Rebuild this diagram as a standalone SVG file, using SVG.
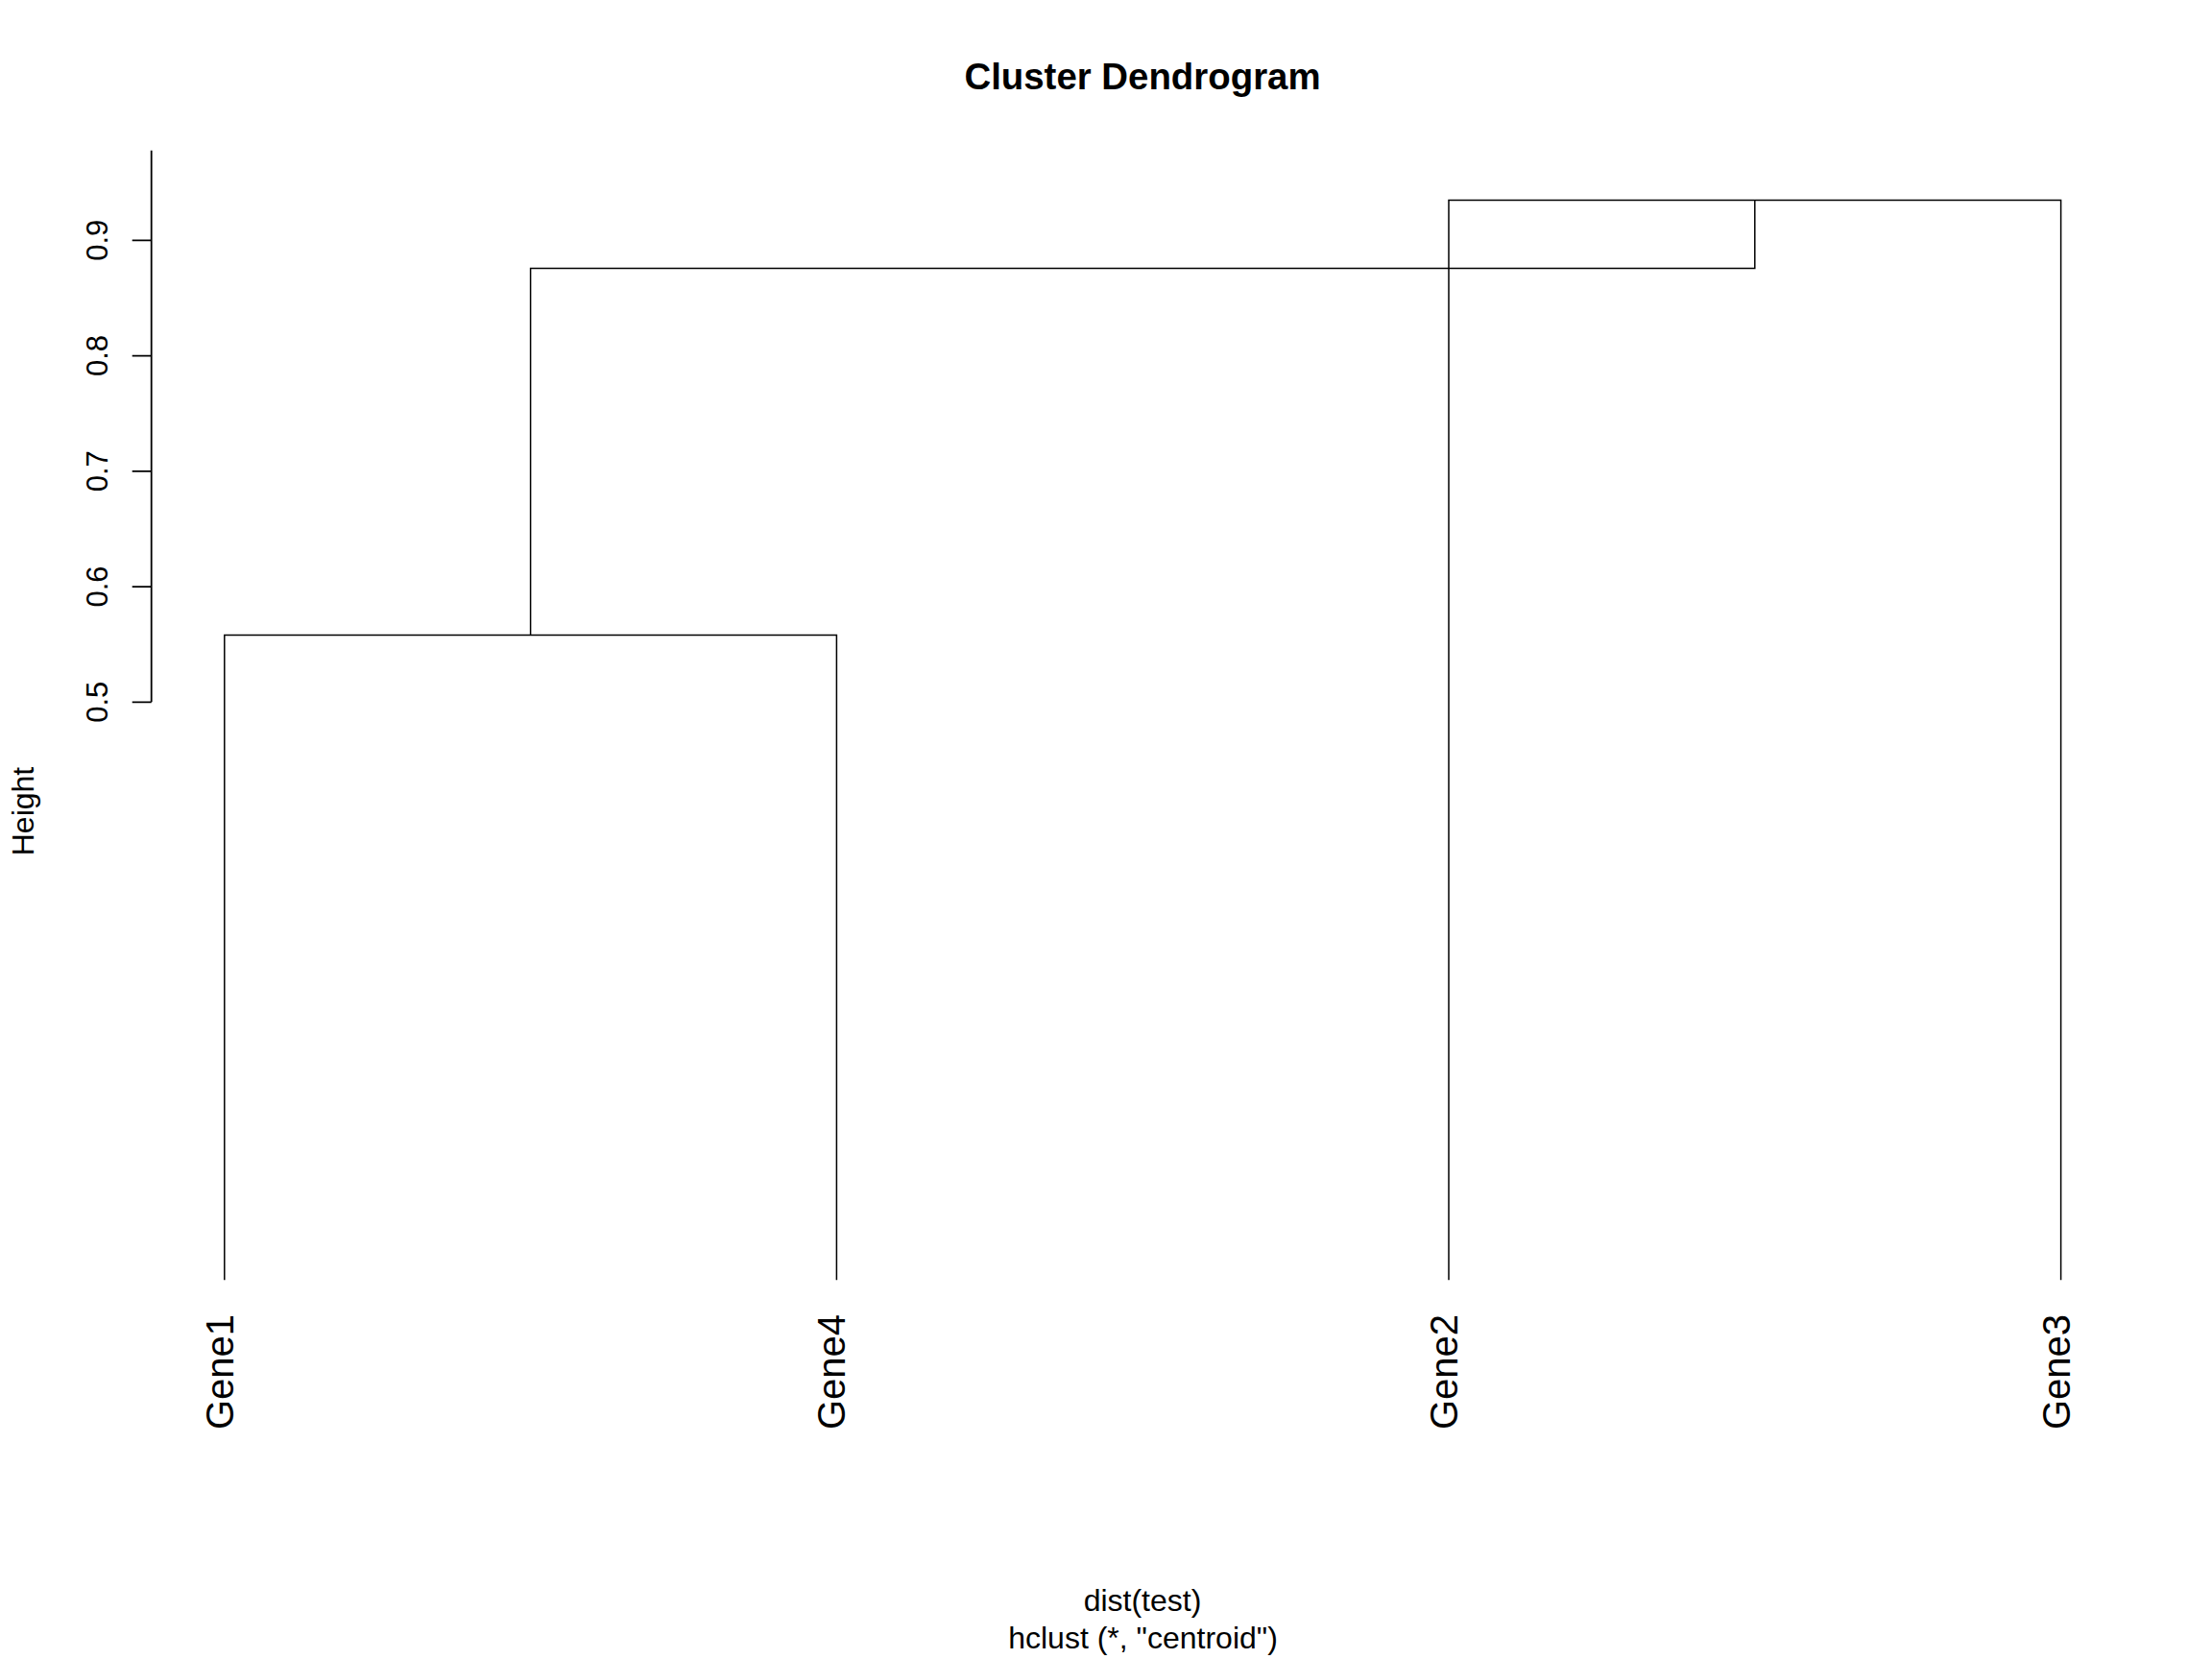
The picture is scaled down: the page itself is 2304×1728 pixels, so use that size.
<svg xmlns="http://www.w3.org/2000/svg" width="2304" height="1728" viewBox="0 0 2304 1728">
  <style>
    .txt { font-family: "Liberation Sans", Arial, Helvetica, sans-serif; fill: #000; }
    .title { font-size: 38.4px; font-weight: bold; text-anchor: middle; }
    .sub { font-size: 32px; text-anchor: middle; }
    .tick { font-size: 31px; text-anchor: middle; }
    .leaf { font-size: 40px; text-anchor: end; }
    .axis { stroke: #000; stroke-width: 1.8; fill: none; stroke-linecap: butt; }
    .edge { stroke: #000; stroke-width: 1.5; fill: none; stroke-linecap: butt; stroke-linejoin: miter; }
  </style>
  <rect x="0" y="0" width="2304" height="1728" fill="#fff"/>

  <g id="title">
    <text class="txt title" x="1190" y="93">Cluster Dendrogram</text>
  </g>

  <g id="y-axis">
    <path class="axis" d="M157.7,156.8 V731.3 M137.7,250.3 H157.7 M137.7,370.55 H157.7 M137.7,490.8 H157.7 M137.7,611.05 H157.7 M137.7,731.3 H157.7"/>
    <text class="txt tick" transform="translate(112,250.3) rotate(-90)">0.9</text>
    <text class="txt tick" transform="translate(112,370.55) rotate(-90)">0.8</text>
    <text class="txt tick" transform="translate(112,490.8) rotate(-90)">0.7</text>
    <text class="txt tick" transform="translate(112,611.05) rotate(-90)">0.6</text>
    <text class="txt tick" transform="translate(112,731.3) rotate(-90)">0.5</text>
    <text class="txt sub" transform="translate(34.5,845) rotate(-90)">Height</text>
  </g>

  <g id="leaf-Gene1">
    <text class="txt leaf" transform="translate(242.5,1369) rotate(-90)">Gene1</text>
  </g>
  <g id="leaf-Gene4">
    <text class="txt leaf" transform="translate(880.2,1369) rotate(-90)">Gene4</text>
  </g>
  <g id="leaf-Gene2">
    <text class="txt leaf" transform="translate(1518,1369) rotate(-90)">Gene2</text>
  </g>
  <g id="leaf-Gene3">
    <text class="txt leaf" transform="translate(2155.5,1369) rotate(-90)">Gene3</text>
  </g>

  <g id="connectors">
    <path class="edge" d="M233.8,1333.3 V661.6 H871.4 V1333.3"/>
    <path class="edge" d="M1509,1333.3 V208.4 H2146.6 V1333.3"/>
    <path class="edge" d="M552.6,661.6 V279.4 H1827.8 V208.4"/>
  </g>

  <g id="x-caption">
    <text class="txt sub" x="1190" y="1678">dist(test)</text>
    <text class="txt sub" x="1190.5" y="1717">hclust (*, "centroid")</text>
  </g>
</svg>
